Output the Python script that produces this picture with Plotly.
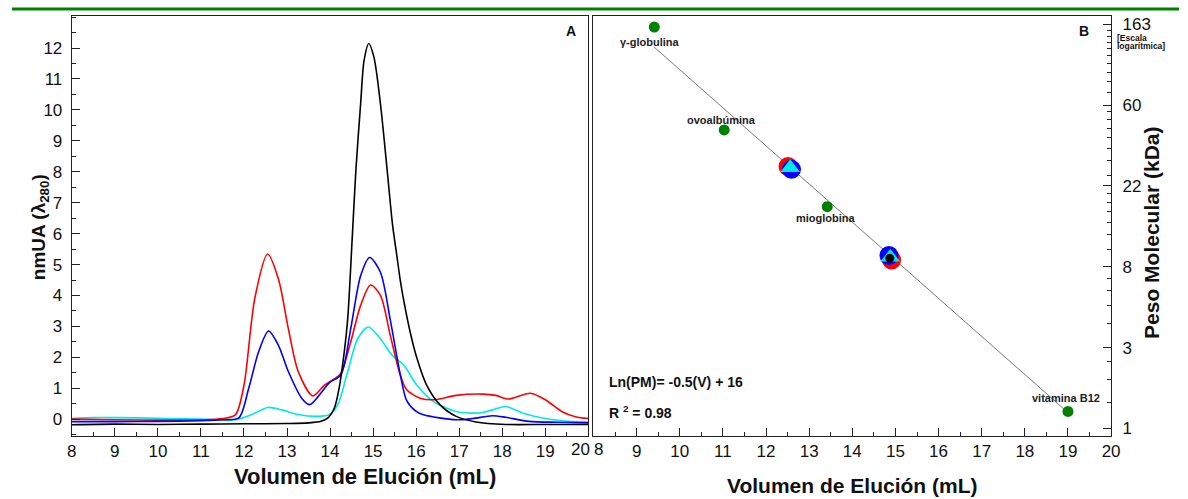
import numpy as np
import plotly.graph_objects as go

# ---------------- Panel A data (elution volume mL, absorbance nmUA) ----------------
red_v = [8, 9, 10, 11, 11.5, 11.8, 12.0, 12.25, 12.55, 12.8, 13.03, 13.26, 13.6, 13.87, 14.1, 14.25, 14.48,
         14.71, 14.94, 15.17, 15.4, 15.63, 15.78, 16.09, 16.43, 16.93, 17.54, 17.85, 18.14, 18.65, 19.0, 19.38, 19.7, 20]
red_a = [0.0, -0.02, -0.03, -0.02, 0.02, 0.14, 1.1, 3.9, 5.34, 4.53, 2.93, 1.54, 0.75, 1.1, 1.3, 1.48, 2.5,
         3.68, 4.34, 4.0, 2.7, 1.43, 0.95, 0.68, 0.63, 0.77, 0.81, 0.77, 0.65, 0.84, 0.63, 0.25, 0.08, 0.02]

blue_v = [8, 9, 10, 11, 11.5, 11.88, 12.11, 12.34, 12.57, 12.8, 13.03, 13.34, 13.53, 13.72, 13.99, 14.25, 14.48,
          14.71, 14.92, 15.17, 15.4, 15.63, 15.78, 16.0, 16.17, 16.93, 17.31, 17.77, 18.08, 18.62, 19.3, 20]
blue_a = [-0.08, -0.08, -0.07, -0.05, -0.02, 0.04, 1.0, 2.18, 2.85, 2.39, 1.54, 0.68, 0.47, 0.73, 1.19, 1.43, 2.93,
          4.64, 5.23, 4.75, 3.2, 1.45, 0.6, 0.25, 0.14, -0.02, 0.02, 0.11, 0.06, -0.07, -0.1, -0.12]

cyan_v = [8, 8.5, 9, 10, 11, 11.8, 12.19, 12.55, 12.88, 13.26, 13.72, 13.99, 14.18, 14.41, 14.64, 14.89, 15.17,
          15.44, 15.71, 16.01, 16.4, 16.93, 17.47, 17.78, 18.08, 18.47, 18.85, 19.38, 20]
cyan_a = [0.02, 0.05, 0.05, 0.03, 0.0, -0.02, 0.15, 0.38, 0.3, 0.15, 0.09, 0.15, 0.47, 1.54, 2.6, 2.98, 2.6,
          2.07, 1.75, 1.11, 0.57, 0.25, 0.2, 0.3, 0.41, 0.2, 0.06, -0.05, -0.09]

black_v = [8, 9, 10, 11, 12, 13, 13.5, 13.79, 13.95, 14.1, 14.21, 14.33, 14.41, 14.52, 14.6, 14.71, 14.79, 14.9,
           15.02, 15.17, 15.33, 15.45, 15.55, 15.63, 15.71, 15.86, 16.02, 16.24, 16.55, 16.93, 17.39, 18.08, 19, 20]
black_a = [-0.18, -0.16, -0.17, -0.16, -0.15, -0.14, -0.12, -0.07, 0.04, 0.36, 1.0, 2.18, 3.25, 6.0, 8.06, 10.2, 11.6, 12.15,
           11.7, 10.2, 8.0, 6.3, 5.3, 4.5, 3.85, 2.82, 1.96, 1.11, 0.47, 0.09, -0.09, -0.17, -0.17, -0.17]

x_ticks = list(range(8, 21))
xA_ticktext = [str(t) for t in x_ticks[:-1]] + [""]   # "20" drawn separately (shifted left)
xB_ticktext = [""] + [str(t) for t in x_ticks[1:]]    # "8" drawn separately (shifted right)
yA_ticks = list(range(0, 13))

# ---------------- Panel B data (elution volume mL, molecular weight kDa) ----------------
std_names = ["γ-globulina", "ovoalbúmina", "mioglobina", "vitamina B12"]
std_v = [9.41, 11.03, 13.42, 19.0]
std_pm = [157, 44, 17, 1.35]
std_dx = [-4, -3, -1, -2]
std_dy = [-15, 10, -11, 13]

line_v = [9.4, 19.0]
line_pm = [123, 1.33]

red_s_v, red_s_pm = [12.51, 14.91], [28.0, 8.8]
blue_s_v, blue_s_pm = [12.59, 14.85], [27.0, 9.3]
cyan_s_v, cyan_s_pm = [12.56, 14.88], [27.5, 9.1]
black_s_v, black_s_pm = [14.87], [9.0]

y2_tickvals = [1.094, 2.974, 8.085, 21.98, 59.74, 162.4]
y2_ticktext = ["1", "3", "8", "22", "60", "163"]
y2_minor = [1.5, 2, 2.5, 4, 5, 6, 7, 10, 12, 14, 16, 18, 20, 25, 30, 35, 40, 45, 50, 55,
            70, 80, 90, 100, 110, 120, 130, 140, 150]

W, H = 1188, 499
FONT = "Liberation Sans, Arial, sans-serif"

fig = go.Figure()

def curve(v, a, color):
    fig.add_trace(go.Scatter(x=v, y=a, mode="lines", xaxis="x", yaxis="y",
                             line=dict(color=color, width=1.6, shape="spline", smoothing=0.8),
                             showlegend=False, hoverinfo="skip"))

curve(cyan_v, cyan_a, "#00E8E8")
curve(red_v, red_a, "#FF0000")
curve(blue_v, blue_a, "#0000FF")
curve(black_v, black_a, "#000000")

# Panel B
fig.add_trace(go.Scatter(x=line_v, y=line_pm, mode="lines", xaxis="x2", yaxis="y2",
                         line=dict(color="#555555", width=0.8), showlegend=False))
fig.add_trace(go.Scatter(x=std_v, y=std_pm, mode="markers", xaxis="x2", yaxis="y2",
                         marker=dict(color="#008000", size=11), showlegend=False))
fig.add_trace(go.Scatter(x=red_s_v, y=red_s_pm, mode="markers", xaxis="x2", yaxis="y2",
                         marker=dict(color="#FF0000", size=19), showlegend=False))
fig.add_trace(go.Scatter(x=blue_s_v, y=blue_s_pm, mode="markers", xaxis="x2", yaxis="y2",
                         marker=dict(color="#0000FF", size=19), showlegend=False))
fig.add_trace(go.Scatter(x=cyan_s_v, y=cyan_s_pm, mode="markers", xaxis="x2", yaxis="y2",
                         marker=dict(color="#00E8E8", size=17, symbol="triangle-up"), showlegend=False))
fig.add_trace(go.Scatter(x=black_s_v, y=black_s_pm, mode="markers", xaxis="x2", yaxis="y2",
                         marker=dict(color="#000000", size=9), showlegend=False))

ydom = [1 - 437.5 / H, 1 - 15 / H]
axis_common = dict(showline=True, linecolor="#222222", linewidth=1.2, mirror=True,
                   ticks="inside", ticklen=8, tickwidth=1, tickcolor="#222222",
                   showgrid=False, zeroline=False,
                   tickfont=dict(family=FONT, size=17, color="#111111"))
minor_lin = dict(dtick=0.5, ticks="inside", ticklen=4, tickcolor="#222222")

fig.update_layout(
    width=W, height=H,
    margin=dict(l=0, r=0, t=0, b=0),
    paper_bgcolor="white", plot_bgcolor="white",
    xaxis=dict(domain=[67.6 / W, 590.3 / W], range=[8, 20], tickmode="array",
               tickvals=x_ticks, ticktext=xA_ticktext, anchor="y", minor=minor_lin, **axis_common),
    yaxis=dict(domain=ydom, range=[-0.54, 13.04], tickmode="array",
               tickvals=yA_ticks, anchor="x", minor=minor_lin, ticklabelstandoff=5, **axis_common),
    xaxis2=dict(domain=[595.5 / W, 1119.3 / W], range=[8, 20], tickmode="array",
                tickvals=x_ticks, ticktext=xB_ticktext, anchor="y2", minor=minor_lin, **axis_common),
    yaxis2=dict(domain=ydom, type="log", range=[-0.001, 2.256], side="right", anchor="x2",
                tickmode="array", tickvals=y2_tickvals, ticktext=y2_ticktext, ticklabelstandoff=7,
                minor=dict(tickmode="array", tickvals=y2_minor, ticks="inside", ticklen=4,
                           tickcolor="#222222"),
                **axis_common),
)

ann = []
def text(x, y, s, size, bold=True, angle=0, xanchor="center", yanchor="middle"):
    ann.append(dict(x=x / W, y=1 - y / H, xref="paper", yref="paper", text=(f"<b>{s}</b>" if bold else s),
                    showarrow=False, textangle=angle, xanchor=xanchor, yanchor=yanchor,
                    font=dict(family=FONT, size=size, color="#111111")))

text(364, 478, "Volumen de Elución (mL)", 22)
text(857, 487, "Volumen de Elución (mL)", 21)
text(35, 228, "nmUA (λ<sub>280</sub>)", 19, angle=-90)
text(1160, 233, "Peso Molecular (kDa)", 21, angle=-90)
text(573, 30, "A", 14)
text(1092, 30, "B", 14)
text(1123, 37, "[Escala", 8.5, xanchor="left")
text(1123, 45, "logarítmica]", 8.5, xanchor="left")
text(609, 383, "Ln(PM)= -0.5(V) + 16", 14, xanchor="left")
text(609, 413, "R <sup>2</sup> = 0.98", 14, xanchor="left")
text(582, 451, "20", 17, bold=False)
text(601, 451, "8", 17, bold=False)

for name, v, pm, dx, dy in zip(std_names, std_v, std_pm, std_dx, std_dy):
    ann.append(dict(x=v, y=np.log10(pm), xref="x2", yref="y2", text=f"<b>{name}</b>", showarrow=False,
                    xshift=dx, yshift=dy, font=dict(family=FONT, size=11, color="#222222")))

fig.update_layout(annotations=ann)
fig.add_shape(type="line", xref="paper", yref="paper", x0=7 / W, x1=1, y0=1 - 8 / H, y1=1 - 8 / H,
              line=dict(color="#008000", width=3))

fig.write_html("out.html")
